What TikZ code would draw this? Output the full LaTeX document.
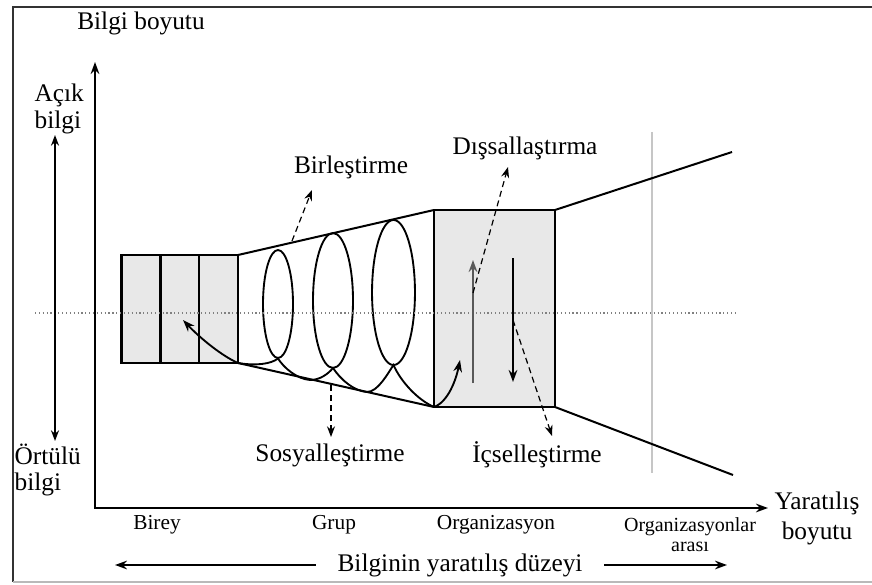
\documentclass[tikz,border=0pt]{standalone}
\usepackage{fontspec}
\setmainfont{Liberation Serif}
\usetikzlibrary{arrows.meta}
\tikzset{
  txt/.style={font=\fontsize{19}{22}\selectfont, inner sep=1pt},
  klein/.style={font=\fontsize{16}{16}\selectfont, inner sep=1pt},
  pfeil/.style={-{Stealth[length=9pt,width=6.5pt]}, line width=1.4pt},
  strichpfeil/.style={-{Stealth[length=8pt,width=6pt]}, line width=0.9pt, dash pattern=on 4.5pt off 3pt},
  zelle/.style={draw, fill=gray!18, line width=2.2pt, minimum width=29.25pt, minimum height=81pt, inner sep=0pt, outer sep=0pt},
  linie/.style={line width=1.5pt},
}
\begin{document}
\begin{tikzpicture}[x=0.75pt,y=-0.75pt]
\useasboundingbox (0,0) rectangle (872,585);

% Rahmen
\draw[line width=1.1pt, black!80] (872,7) -- (13,7) -- (13,582);
\draw[line width=1.1pt, gray!55] (13,582) -- (872,582);

% Achsen
\coordinate (O) at (95,508);
\coordinate (ymax) at (95,62);
\coordinate (xmax) at (768,508);
\draw[{Stealth[length=9pt,width=6.5pt]}-{Stealth[length=9pt,width=6.5pt]}, line width=1.5pt] (ymax) -- (O) -- (xmax);

% Grenze Organisation
\draw[gray!45, line width=1.6pt] (652,132) -- (652,473);

% Kaesten
\foreach \i/\x in {1/141,2/180,3/218.5}
  \node[zelle] (z\i) at (\x,309) {};
\node[zelle, minimum width=90.75pt, minimum height=147.75pt] (orgbox) at (494.5,308.5) {};

% Trichter
\coordinate (aussenO) at (732,152);
\coordinate (aussenU) at (733,475);
\draw[linie] (z3.north east) -- (orgbox.north west);
\draw[linie] (z3.south east) -- (orgbox.south west);
\draw[linie] (orgbox.north east) -- (aussenO);
\draw[linie] (orgbox.south east) -- (aussenU);

% Spirale
\foreach \x/\y/\rx/\ry in {278/304/11.25/40.5, 333/300.5/15/50.6, 393.5/292.5/16.1/54.4}
  \draw[line width=1.4pt] (\x,\y) ellipse [x radius=\rx pt, y radius=\ry pt];
\draw[line width=1.4pt] (z3.south east) .. controls (256,366) and (271,364) .. (278,358.5)
  .. controls (284,368) and (297,379) .. (310,380)
  .. controls (320,380) and (328,374) .. (333,368)
  .. controls (341,380) and (354,391) .. (367,392)
  .. controls (378,392) and (388,373) .. (393.5,365)
  .. controls (401,382) and (418,400) .. (orgbox.south west);

% Mittellinie
\draw[gray, dotted, line width=0.9pt] (35,313) -- (735,313);

% Pfeile im Organisationskasten
\coordinate (hochA) at (473,383);
\coordinate (hochB) at (473,260);
\coordinate (runterA) at (513,258);
\coordinate (runterB) at (513,382);
\draw[pfeil, gray!70!black] (hochA) -- (hochB);
\draw[pfeil] (runterA) -- (runterB);

% gebogene Pfeile
\coordinate (indZiel) at (183,320);
\coordinate (orgZiel) at (460,360);
\draw[pfeil] (z3.south east) .. controls (222,356) and (200,338) .. (indZiel);
\draw[pfeil] (orgbox.south west) .. controls (448,402) and (456,380) .. (orgZiel);

% Beschriftung links
\node[txt] (yachse) at (141,23) {Bilgi boyutu};
\node[txt, align=left, anchor=west, font=\fontsize{19}{20}\selectfont] (acik) at (33,109) {Açık\\bilgi};
\node[txt, align=left, anchor=west, font=\fontsize{19}{19}\selectfont] (ortulu) at (13,470) {Örtülü\\bilgi};
\coordinate (bilgiO) at (55,135);
\coordinate (bilgiU) at (55,441);
\draw[{Stealth[length=8pt,width=6pt]}-{Stealth[length=8pt,width=6pt]}, line width=1.3pt] (bilgiO) -- (bilgiU);

% Prozesse
\node[txt] (birles) at (351,167) {Birleştirme};
\node[txt] (dissal) at (525,148) {Dışsallaştırma};
\node[txt] (sosyal) at (330,455) {Sosyalleştirme};
\node[txt] (icsel) at (537,455) {İçselleştirme};
\coordinate (birA) at (292,241);
\coordinate (birB) at (312,190);
\coordinate (disA) at (473,293);
\coordinate (disB) at (508,167);
\coordinate (sosA) at (331,385);
\coordinate (sosB) at (331,437);
\coordinate (icA) at (513,320);
\coordinate (icB) at (552,436);
\draw[strichpfeil] (birA) -- (birB);
\draw[strichpfeil] (disA) -- (disB);
\draw[strichpfeil] (sosA) -- (sosB);
\draw[strichpfeil] (icA) -- (icB);

% Beschriftung unten
\node[txt, align=center, font=\fontsize{19}{22.5}\selectfont] (xachse) at (817,518) {Yaratılış\\boyutu};
\node[klein] (birey) at (157,525) {Birey};
\node[klein] (grup) at (334,525) {Grup};
\node[klein] (org) at (496,525) {Organizasyon};
\node[klein, align=center, font=\fontsize{15}{15}\selectfont] (orgarasi) at (690,535) {Organizasyonlar\\arası};
\node[txt] (duzey) at (460,565) {Bilginin yaratılış düzeyi};
\coordinate (duzeyL) at (115,565);
\coordinate (duzeyR) at (727,565);
\draw[pfeil, line width=1.2pt, shorten <=15pt] (duzey.west) -- (duzeyL);
\draw[pfeil, line width=1.2pt, shorten <=15pt] (duzey.east) -- (duzeyR);

\end{tikzpicture}
\end{document}
